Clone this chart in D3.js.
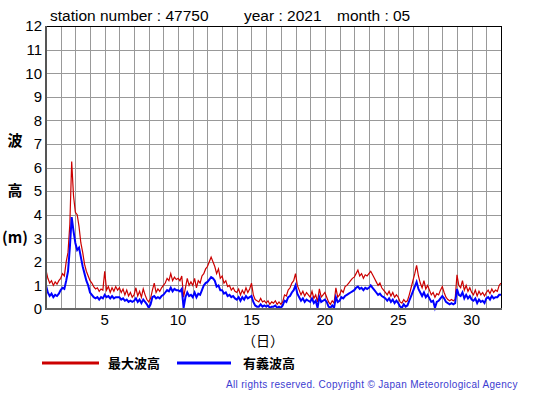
<!DOCTYPE html>
<html>
<head>
<meta charset="utf-8">
<script src="https://cdn.jsdelivr.net/npm/d3@7"></script>
<style>
  body { margin: 0; background: #fff; }
  svg { display: block; font-family: 'Liberation Sans', Arial, sans-serif; }
</style>
</head>
<body>
<div id="chart"></div>
<script>
// 3-hourly readings, 8 per day, starting at day 1 00h
const maxWave = [
  1.65, 1.3, 1.1, 1.2, 1.0, 1.15, 1.05, 1.2,
  1.3, 1.5, 1.4, 2.0, 2.4, 3.6, 6.25, 4.8,
  4.1, 4.0, 3.5, 2.8, 2.4, 1.9, 1.6, 1.4,
  1.2, 1.1, 0.95, 0.85, 0.9, 0.75, 0.85, 0.8,
  1.6, 0.8, 0.95, 0.7, 0.9, 0.75, 0.95, 0.8,
  0.9, 0.7, 0.85, 0.6, 0.8, 0.55, 0.7, 0.5,
  0.6, 0.9, 0.55, 0.75, 0.5, 0.85, 0.6, 0.4,
  0.3, 0.45, 0.8, 1.1, 0.7, 0.85, 0.75, 0.9,
  1.0, 1.1, 1.3, 1.2, 1.5, 1.2, 1.35, 1.25,
  1.3, 1.2, 1.4, 0.5, 0.9, 1.3, 1.0, 1.15,
  1.0, 1.3, 0.9, 1.2, 1.1, 1.4, 1.5, 1.7,
  1.8, 2.0, 2.2, 2.0, 1.8, 1.5, 1.7, 1.3,
  1.4, 1.1, 1.2, 0.95, 1.0, 0.8, 0.9, 0.75,
  0.7, 0.85, 0.6, 0.8, 0.65, 0.9, 0.7, 0.85,
  1.1, 0.6, 0.4, 0.35, 0.3, 0.45, 0.3, 0.35,
  0.25, 0.35, 0.2, 0.3, 0.25, 0.35, 0.2, 0.3,
  0.2, 0.3, 0.6, 0.55, 0.8, 0.9, 1.1, 1.2,
  1.5, 1.0, 0.8, 0.6, 0.75, 0.55, 0.7, 0.6,
  0.5, 0.75, 0.45, 0.6, 0.3, 0.85, 0.5, 0.6,
  0.7, 0.5, 0.3, 0.2, 0.35, 0.25, 0.9, 0.5,
  0.6, 0.8, 0.7, 0.95, 1.0, 1.1, 1.2, 1.3,
  1.35, 1.5, 1.65, 1.4, 1.5, 1.3, 1.45, 1.4,
  1.5, 1.6, 1.45, 1.3, 1.15, 1.0, 1.1, 0.9,
  0.8, 0.7, 0.6, 0.75, 0.55, 0.7, 0.5, 0.6,
  0.5, 0.3, 0.25, 0.4, 0.3, 0.35, 0.6, 0.9,
  1.2, 1.5, 1.85, 1.4, 1.1, 0.9, 1.2, 0.85,
  1.0, 0.8, 0.6, 0.7, 0.5, 0.65, 0.6, 0.8,
  0.95, 0.7, 0.5, 0.4, 0.35, 0.4, 0.35, 0.4,
  1.45, 1.0, 0.9, 1.2, 0.8, 1.0, 0.75, 0.9,
  0.7, 0.6, 0.8, 0.55, 0.75, 0.6, 0.7, 0.55,
  0.7, 0.8, 0.65, 0.85, 0.7, 0.8, 0.75, 1.0,
  1.1
]
const sigWave = [
  1.0, 0.7, 0.55, 0.65, 0.5, 0.6, 0.55, 0.65,
  0.8, 0.9, 0.85, 1.2, 1.6, 2.6, 3.9, 3.3,
  2.8, 2.5, 2.6, 2.2, 1.8, 1.5, 1.2, 1.0,
  0.7, 0.6, 0.5, 0.45, 0.5, 0.4, 0.5, 0.45,
  0.6, 0.5, 0.55, 0.45, 0.55, 0.45, 0.5, 0.5,
  0.5, 0.4, 0.45, 0.35, 0.4, 0.3, 0.35, 0.3,
  0.35, 0.45, 0.3, 0.4, 0.25, 0.4, 0.3, 0.2,
  0.05, 0.2, 0.5, 0.55, 0.45, 0.5, 0.45, 0.55,
  0.6, 0.7, 0.8, 0.75, 0.9, 0.75, 0.85, 0.8,
  0.8, 0.75, 0.85, 0.05, 0.5, 0.7, 0.55, 0.6,
  0.5, 0.7, 0.5, 0.65, 0.6, 0.8, 1.0, 1.1,
  1.15, 1.25, 1.35, 1.3, 1.2, 0.95, 1.0, 0.8,
  0.8, 0.65, 0.7, 0.55, 0.6, 0.5, 0.55, 0.45,
  0.4, 0.5, 0.35, 0.5, 0.4, 0.55, 0.45, 0.5,
  0.55, 0.3, 0.15, 0.1, 0.1, 0.2, 0.1, 0.15,
  0.1, 0.15, 0.05, 0.1, 0.1, 0.15, 0.05, 0.1,
  0.05, 0.15, 0.35, 0.3, 0.5, 0.55, 0.7, 0.8,
  1.0, 0.65, 0.5, 0.35, 0.45, 0.3, 0.4, 0.35,
  0.3, 0.45, 0.25, 0.35, 0.05, 0.5, 0.3, 0.35,
  0.4, 0.3, 0.1, 0.05, 0.15, 0.05, 0.5, 0.3,
  0.35, 0.5, 0.45, 0.55, 0.6, 0.65, 0.7, 0.75,
  0.8, 0.9, 0.95, 0.85, 0.9, 0.8, 0.9, 0.85,
  0.9, 1.0, 0.9, 0.8, 0.7, 0.6, 0.65, 0.55,
  0.5, 0.45, 0.35, 0.45, 0.3, 0.4, 0.25, 0.35,
  0.25, 0.1, 0.05, 0.2, 0.1, 0.15, 0.35, 0.55,
  0.75, 0.95, 1.15, 0.85, 0.7, 0.55, 0.7, 0.5,
  0.6, 0.45, 0.3, 0.35, 0.05, 0.3, 0.35, 0.45,
  0.55, 0.45, 0.3, 0.25, 0.2, 0.25, 0.2, 0.25,
  0.85, 0.6, 0.55, 0.7, 0.45, 0.6, 0.45, 0.55,
  0.4, 0.35, 0.45, 0.25, 0.4, 0.3, 0.35, 0.25,
  0.45, 0.5, 0.4, 0.55, 0.45, 0.5, 0.5, 0.6,
  0.6
]
const yTicks = [0, 1, 2, 3, 4, 5, 6, 7, 8, 9, 10, 11, 12]
const xTicks = [5, 10, 15, 20, 25, 30]
const dayGrid = d3.range(2, 32)
const seriesNames = ['最大波高', '有義波高']

const W = 555, H = 395
const plot = {left: 46, top: 26, right: 501, bottom: 309}

const svg = d3.select('#chart').append('svg')
  .attr('width', W)
  .attr('height', H)

const x = d3.scaleLinear().domain([1, 32]).range([plot.left, plot.right])
const y = d3.scaleLinear().domain([0, 12]).range([plot.bottom, plot.top])

// grid
svg.append('g')
  .selectAll('line')
  .data(dayGrid)
  .join('line')
  .attr('x1', d => Math.round(x(d)) + 0.5)
  .attr('x2', d => Math.round(x(d)) + 0.5)
  .attr('y1', plot.top)
  .attr('y2', plot.bottom)
  .attr('stroke', '#999')
  .attr('stroke-width', 1)

svg.append('g')
  .selectAll('line')
  .data(yTicks.slice(1, -1))
  .join('line')
  .attr('x1', plot.left)
  .attr('x2', plot.right)
  .attr('y1', d => Math.round(y(d)) + 0.5)
  .attr('y2', d => Math.round(y(d)) + 0.5)
  .attr('stroke', '#999')
  .attr('stroke-width', 1)

// series
const line = d3.line()
  .x((d, i) => x(1 + i / 8))
  .y(d => y(d))

svg.append('path')
  .datum(maxWave)
  .attr('d', line)
  .attr('fill', 'none')
  .attr('stroke', '#cc0000')
  .attr('stroke-width', 1.2)

svg.append('path')
  .datum(sigWave)
  .attr('d', line)
  .attr('fill', 'none')
  .attr('stroke', '#0000ff')
  .attr('stroke-width', 2)

// frame
svg.append('line')
  .attr('x1', plot.left).attr('x2', plot.right)
  .attr('y1', plot.top + 0.5).attr('y2', plot.top + 0.5)
  .attr('stroke', '#000')
svg.append('line')
  .attr('x1', plot.right + 0.5).attr('x2', plot.right + 0.5)
  .attr('y1', plot.top).attr('y2', plot.bottom)
  .attr('stroke', '#000')
svg.append('line')
  .attr('x1', plot.left).attr('x2', plot.left)
  .attr('y1', plot.top).attr('y2', plot.bottom + 1)
  .attr('stroke', '#555').attr('stroke-width', 2)
svg.append('line')
  .attr('x1', plot.left).attr('x2', plot.right + 1)
  .attr('y1', plot.bottom).attr('y2', plot.bottom)
  .attr('stroke', '#666').attr('stroke-width', 2)

// axis labels
svg.append('g')
  .selectAll('text')
  .data(yTicks)
  .join('text')
  .attr('x', 42)
  .attr('y', d => y(d))
  .attr('dy', '0.36em')
  .attr('text-anchor', 'end')
  .attr('font-size', 15)
  .text(d => d)

svg.append('g')
  .selectAll('text')
  .data(xTicks)
  .join('text')
  .attr('x', d => x(d))
  .attr('y', 325)
  .attr('text-anchor', 'middle')
  .attr('font-size', 15)
  .text(d => d)

const cjk = "'Noto Sans CJK JP', sans-serif"
svg.append('text')
  .attr('x', 263).attr('y', 346)
  .attr('text-anchor', 'middle')
  .attr('font-family', cjk)
  .attr('font-size', 14)
  .text('（日）')

const yLab = [['波', 146], ['高', 196], ['(m)', 243]]
svg.append('g')
  .selectAll('text')
  .data(yLab)
  .join('text')
  .attr('x', 15)
  .attr('y', d => d[1])
  .attr('text-anchor', 'middle')
  .attr('font-family', cjk)
  .attr('font-weight', 'bold')
  .attr('font-size', 15)
  .text(d => d[0])

// title
const titles = [['station number : 47750', 50], ['year : 2021', 244], ['month : 05', 337]]
svg.append('g')
  .selectAll('text')
  .data(titles)
  .join('text')
  .attr('x', d => d[1])
  .attr('y', 21)
  .attr('font-size', 15.5)
  .text(d => d[0])

// legend
const legend = svg.append('g')
const legendColors = ['#cc0000', '#0000ff']
const legendX = [[42, 99, 108], [177, 231, 243]]
seriesNames.forEach((name, i) => {
  legend.append('line')
    .attr('x1', legendX[i][0]).attr('x2', legendX[i][1])
    .attr('y1', 363).attr('y2', 363)
    .attr('stroke', legendColors[i])
    .attr('stroke-width', 3)
  legend.append('text')
    .attr('x', legendX[i][2]).attr('y', 368)
    .attr('font-family', cjk)
    .attr('font-weight', 'bold')
    .attr('font-size', 13)
    .text(name)
})

svg.append('text')
  .attr('x', 226).attr('y', 388)
  .attr('font-size', 10)
  .attr('letter-spacing', 0.33)
  .attr('fill', '#3c3cd0')
  .text('All rights reserved. Copyright © Japan Meteorological Agency')
</script>
</body>
</html>
